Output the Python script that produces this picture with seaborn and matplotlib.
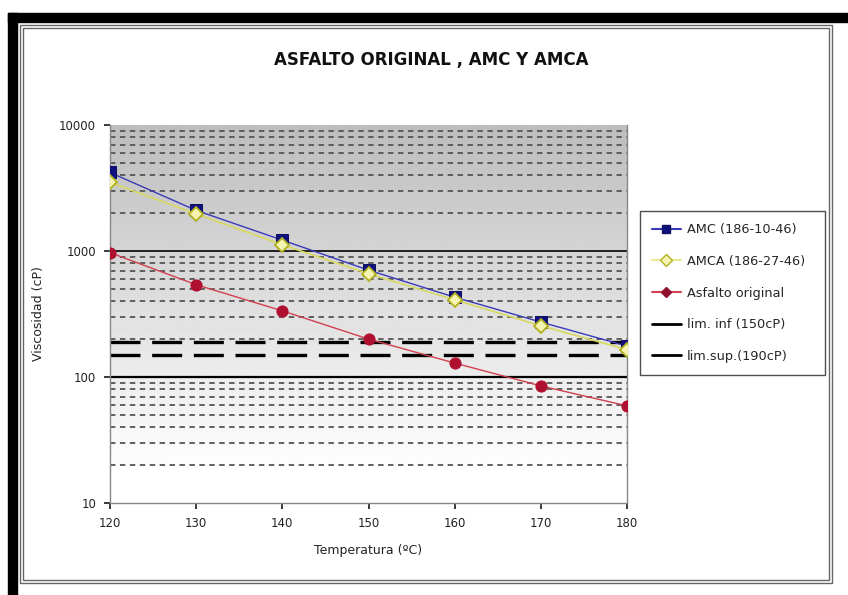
import matplotlib
matplotlib.use("Agg")
import matplotlib.pyplot as plt
import matplotlib.patches as mpatches
from matplotlib.lines import Line2D
import numpy as np
import pandas as pd
import seaborn as sns

# Data
temperatures = [120, 130, 140, 150, 160, 170, 180]
amc_visc = [4200, 2100, 1220, 705, 430, 273, 176]
amca_visc = [3500, 1970, 1120, 660, 410, 255, 165]
original_visc = [970, 540, 335, 200, 129, 85, 59]
lim_inf = 150
lim_sup = 190

sns.set_theme(style="white")
plt.rcParams['font.family'] = ['DejaVu Sans']

fig = plt.figure(figsize=(8.48, 5.95), dpi=100)
fig.patch.set_facecolor("white")

# outer black bars and the double grey frame of the embedded chart
fig.patches.append(mpatches.Rectangle((8 / 848, 0), 9 / 848, 1 - 13 / 595,
                                      transform=fig.transFigure, color="black", zorder=0))
fig.patches.append(mpatches.Rectangle((8 / 848, 1 - 22 / 595), 1, 9 / 595,
                                      transform=fig.transFigure, color="black", zorder=0))
for off in (0, 3):
    fig.patches.append(mpatches.Rectangle(((20 + off) / 848, 1 - (583 - off) / 595),
                                          (812 - 2 * off) / 848, (558 - 2 * off) / 595,
                                          transform=fig.transFigure, fill=False,
                                          edgecolor="#666666", lw=1.0, zorder=0))

ax = fig.add_axes([110 / 848, 1 - 503 / 595, 517 / 848, 378 / 595])

# grey-to-white gradient background of the plot area (dark at top)
grad = np.linspace(0.74, 1.0, 256).reshape(-1, 1)
ax.imshow(grad, cmap="gray", vmin=0, vmax=1, aspect="auto", origin="upper",
          extent=[0, 1, 0.08, 1], transform=ax.transAxes, zorder=0)

ax.set_yscale("log")
ax.set_xlim(120, 180)
ax.set_ylim(10, 10000)

# gridlines: solid at decades, dashed at the intermediate values
for dec in (10, 100, 1000):
    for m in range(2, 10):
        ax.axhline(dec * m, color="#555555", lw=1.3, ls=(0, (3, 2.5)), zorder=1)
ax.axhline(100, color="black", lw=1.6, zorder=1)
ax.axhline(1000, color="black", lw=1.2, zorder=1)

# limit lines
ax.axhline(lim_sup, color="black", lw=2.4, ls=(0, (9, 3.5)), zorder=2)
ax.axhline(lim_inf, color="black", lw=2.4, ls=(0, (9, 3.5)), zorder=2)

df = pd.DataFrame({"temp": temperatures, "amc": amc_visc,
                   "amca": amca_visc, "orig": original_visc})

sns.lineplot(data=df, x="temp", y="amc", ax=ax, color="#3a3ab8", lw=1.0,
             marker="s", markersize=8, markerfacecolor="#101080",
             markeredgecolor="#101060", zorder=4)
sns.lineplot(data=df, x="temp", y="amca", ax=ax, color="#d8d860", lw=1.2,
             marker="D", markersize=7, markerfacecolor="#f4f4b0",
             markeredgecolor="#b0b020", markeredgewidth=1.3, zorder=5)
sns.lineplot(data=df, x="temp", y="orig", ax=ax, color="#d04050", lw=1.0,
             marker="o", markersize=8, markerfacecolor="#b01030",
             markeredgecolor="#b01030", zorder=4)

ax.set_xticks(temperatures)
ax.set_yticks([10, 100, 1000, 10000])
ax.set_yticklabels(["10", "100", "1000", "10000"])
ax.minorticks_off()
ax.tick_params(axis="both", labelsize=8.5, colors="#222222", length=4,
               direction="out", left=True, bottom=True, pad=6)
for s in ax.spines.values():
    s.set_color("#888888")
    s.set_linewidth(1.0)
ax.spines["top"].set_visible(False)

ax.set_xlabel("Temperatura (ºC)", fontsize=9, color="#222222", labelpad=10)
ax.set_ylabel("Viscosidad (cP)", fontsize=9, color="#222222", labelpad=10)

fig.text(431 / 848, 1 - 60 / 595, "ASFALTO ORIGINAL , AMC Y AMCA",
         ha="center", va="center", fontsize=12, fontweight="bold", color="#111111")

handles = [
    Line2D([], [], color="#3a3ab8", marker="s", markersize=6,
           markerfacecolor="#101080", markeredgecolor="#101060"),
    Line2D([], [], color="#e8e890", marker="D", markersize=6,
           markerfacecolor="#f4f4b0", markeredgecolor="#b0b020"),
    Line2D([], [], color="#d04050", marker="D", markersize=5,
           markerfacecolor="#901030", markeredgecolor="#901030"),
    Line2D([], [], color="black", lw=2.0),
    Line2D([], [], color="black", lw=2.0),
]
labels = ["AMC (186-10-46)", "AMCA (186-27-46)", "Asfalto original",
          "lim. inf (150cP)", "lim.sup.(190cP)"]
leg = fig.legend(handles, labels, loc="upper left",
                 bbox_to_anchor=(634 / 848, 1 - 418 / 595, 197 / 848, 213 / 595),
                 mode="expand", fontsize=9.3, frameon=True, fancybox=False,
                 edgecolor="#222222", handlelength=2.2, labelspacing=1.45,
                 borderpad=0.9, handletextpad=0.5)
leg.get_frame().set_linewidth(1.0)

fig.savefig("out.png", dpi=100)
